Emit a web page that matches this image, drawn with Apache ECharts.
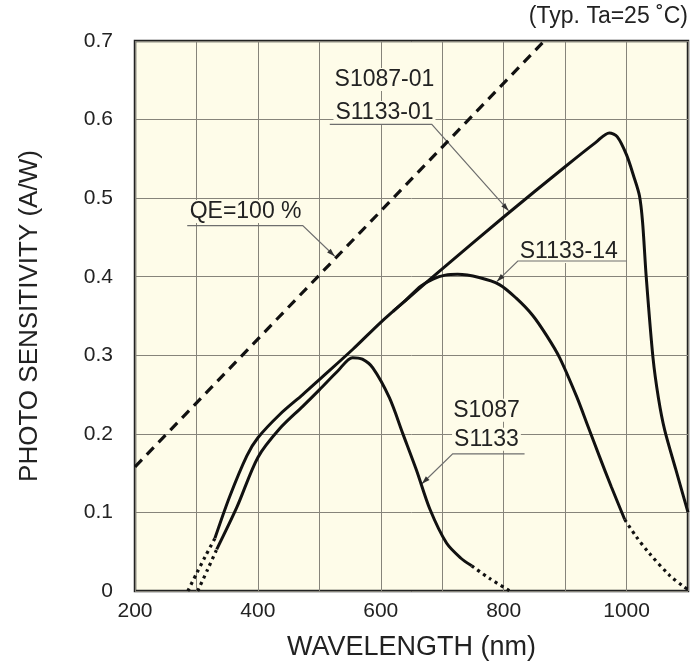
<!DOCTYPE html>
<html>
<head>
<meta charset="utf-8">
<script src="https://cdn.jsdelivr.net/npm/echarts@6/dist/echarts.min.js"></script>
<style>html,body{margin:0;padding:0;background:#fff}#c{width:699px;height:666px}</style>
</head>
<body>
<div id="c"></div>
<script>
// ---- data ----
const xTicks = [200, 400, 600, 800, 1000];
const qeLine = [[200, 0.158], [866, 0.7]];
const s108701Dot = [[286, 0], [300, 0.022], [315, 0.045], [330, 0.067]];
const s108701 = [[330, 0.067], [354, 0.12], [382, 0.172], [400, 0.195], [436, 0.225], [473, 0.25], [500, 0.269], [555, 0.308], [600, 0.342], [642, 0.371], [700, 0.41], [800, 0.476], [900, 0.54], [950, 0.571], [972, 0.583], [985, 0.578], [1000, 0.555], [1012, 0.527], [1021, 0.503], [1026, 0.47], [1032, 0.4], [1043, 0.297], [1052, 0.245], [1062, 0.205], [1080, 0.155], [1100, 0.1]];
const s113314 = [[620, 0.356], [642, 0.371], [665, 0.388], [685, 0.397], [705, 0.402], [725, 0.403], [760, 0.399], [793, 0.39], [820, 0.373], [847, 0.351], [870, 0.325], [891, 0.297], [919, 0.247], [937, 0.21], [956, 0.171], [975, 0.133], [997, 0.091]];
const s113314Dot = [[997, 0.091], [1015, 0.07], [1037, 0.048], [1070, 0.02], [1094, 0.005], [1100, 0.002]];
const s1087Dot = [[302, 0], [318, 0.027], [333, 0.053]];
const s1087 = [[333, 0.053], [366, 0.107], [400, 0.17], [436, 0.207], [473, 0.235], [500, 0.256], [530, 0.28], [554, 0.297], [570, 0.295], [587, 0.284], [614, 0.246], [636, 0.2], [658, 0.154], [680, 0.104], [707, 0.061], [730, 0.042], [748, 0.032]];
const s1087End = [[748, 0.032], [777, 0.016], [810, 0]];

// annotations (data coordinates)
const labels = [
  {text: 'QE=100 %', at: [380, 0.483]},
  {text: 'S1087-01', at: [606, 0.651]},
  {text: 'S1133-01', at: [606, 0.609]},
  {text: 'S1133-14', at: [906, 0.432]},
  {text: 'S1087', at: [772, 0.23]},
  {text: 'S1133', at: [772, 0.193]}
];
const leaders = [
  [[285, 0.465], [473, 0.465], [525, 0.426]],
  [[517, 0.594], [683, 0.594], [808, 0.484]],
  [[1000, 0.42], [823, 0.42], [789, 0.394]],
  [[834, 0.1745], [717, 0.1745], [667, 0.1365]]
];

const FONT = '"Liberation Sans", Arial, Helvetica, sans-serif';
const chart = echarts.init(document.getElementById('c'), null, {renderer: 'canvas'});

function solid(d) {
  return {type: 'line', data: d, showSymbol: false, smooth: 0.3, z: 5,
    lineStyle: {color: '#111', width: 3}, silent: true};
}
function dotted(d) {
  return {type: 'line', data: d, showSymbol: false, smooth: 0.3, z: 5,
    lineStyle: {color: '#111', width: 3.2, type: [3, 4]}, silent: true};
}

chart.setOption({
  animation: false,
  grid: {left: 135, right: 11, top: 41, bottom: 71, show: true, backgroundColor: '#fefce9', borderColor: '#222', borderWidth: 2.5},
  xAxis: {
    type: 'value', min: 200, max: 1100, interval: 100,
    axisLine: {show: false}, axisTick: {show: false},
    splitLine: {show: true, lineStyle: {color: '#86847a', width: 1}},
    axisLabel: {color: '#222', fontSize: 21, fontFamily: FONT, margin: 10,
      formatter: v => xTicks.indexOf(v) >= 0 ? String(v) : ''},
    name: 'WAVELENGTH (nm)', nameLocation: 'middle', nameGap: 43,
    nameTextStyle: {color: '#222', fontSize: 27, fontFamily: FONT}
  },
  yAxis: {
    type: 'value', min: 0, max: 0.7, interval: 0.1,
    axisLine: {show: false}, axisTick: {show: false},
    splitLine: {show: true, lineStyle: {color: '#86847a', width: 1}},
    axisLabel: {color: '#222', fontSize: 21, fontFamily: FONT, margin: 22,
      formatter: v => String(+v.toFixed(1))},
    name: 'PHOTO SENSITIVITY (A/W)', nameLocation: 'middle', nameGap: 92,
    nameTextStyle: {color: '#222', fontSize: 26, fontFamily: FONT}
  },
  series: [
    {type: 'line', data: qeLine, showSymbol: false, z: 5, silent: true,
      lineStyle: {color: '#111', width: 3.2, type: [10, 7]}},
    dotted(s108701Dot), solid(s108701),
    solid(s113314), dotted(s113314Dot),
    dotted(s1087Dot), solid(s1087), dotted(s1087End)
  ]
});

function px(p) { return chart.convertToPixel({gridIndex: 0}, p); }
const g = [];
labels.forEach(l => {
  const p = px(l.at);
  g.push({type: 'text', x: p[0], y: p[1], z: 3,
    style: {text: l.text, font: '23px ' + FONT, fill: '#222', align: 'center', verticalAlign: 'middle',
      backgroundColor: '#fefce9', padding: [0, 2]}});
});
leaders.forEach(pts => {
  const pp = pts.map(px);
  g.push({type: 'polyline', z: 4, shape: {points: pp}, style: {stroke: '#6e6e6e', lineWidth: 1.2, fill: null}});
  const a = pp[pp.length - 1], b = pp[pp.length - 2];
  const dx = a[0] - b[0], dy = a[1] - b[1], L = Math.hypot(dx, dy);
  const ux = dx / L, uy = dy / L, len = 8, hw = 2.6;
  const bx = a[0] - ux * len, by = a[1] - uy * len;
  g.push({type: 'polygon', z: 4, shape: {points: [a, [bx - uy * hw, by + ux * hw], [bx + uy * hw, by - ux * hw]]},
    style: {fill: '#333'}});
});
g.push({type: 'text', right: 11, top: 5, z: 3,
  style: {text: '(Typ. Ta=25 \u02DAC)', font: '23px ' + FONT, fill: '#222'}});
chart.setOption({graphic: g});
</script>
</body>
</html>
